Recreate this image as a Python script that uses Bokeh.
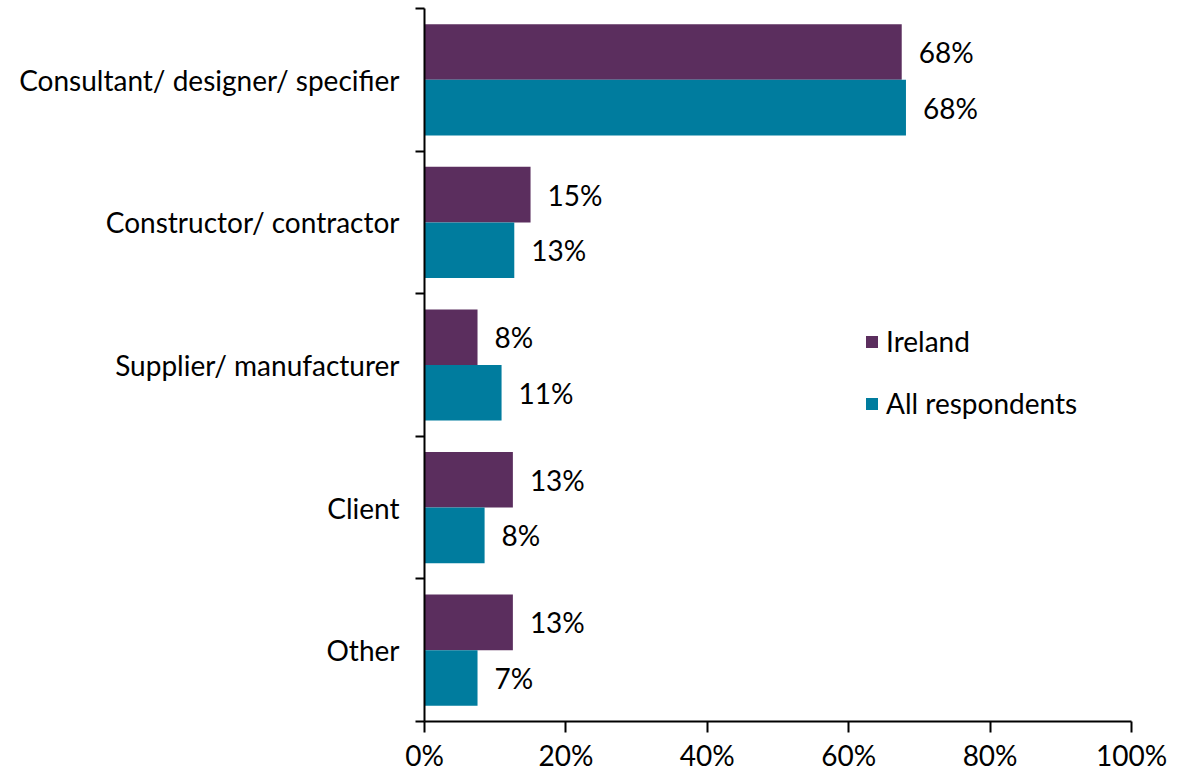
from bokeh.plotting import figure
from bokeh.models import ColumnDataSource, FixedTicker, Legend, LegendItem, Range1d
from bokeh.embed import file_html
from bokeh.resources import INLINE
from bokeh.core.properties import value

categories = ["Consultant/ designer/ specifier", "Constructor/ contractor",
              "Supplier/ manufacturer", "Client", "Other"]
ireland = [67.5, 15.0, 7.5, 12.5, 12.5]
all_resp = [68.1, 12.7, 10.9, 8.5, 7.5]
ireland_labels = ["68%", "15%", "8%", "13%", "13%"]
all_labels = ["68%", "13%", "11%", "8%", "7%"]
series_names = ["Ireland", "All respondents"]
x_ticks = [0, 20, 40, 60, 80, 100]
x_tick_labels = ["0%", "20%", "40%", "60%", "80%", "100%"]

PURPLE = "#5B2E5E"
TEAL = "#007C9E"
FONT = "Lato"
FS = "28px"

n = len(categories)
pos = [n - 1 - i for i in range(n)]
bar_h = 0.39

src_i = ColumnDataSource(dict(y=[p + bar_h / 2 for p in pos], x=ireland, lab=ireland_labels))
src_a = ColumnDataSource(dict(y=[p - bar_h / 2 for p in pos], x=all_resp, lab=all_labels))

p = figure(width=1185, height=774, output_backend="svg", toolbar_location=None,
           x_range=Range1d(0, 100), y_range=Range1d(-0.5, n - 0.5),
           min_border_left=424, min_border_right=54, min_border_top=8, min_border_bottom=50)
p.outline_line_color = None
p.xgrid.grid_line_color = None
p.ygrid.grid_line_color = None
p.background_fill_color = "white"
p.border_fill_color = "white"

r1 = p.hbar(y="y", right="x", left=0, height=bar_h, source=src_i,
            fill_color=PURPLE, line_color=None)
r2 = p.hbar(y="y", right="x", left=0, height=bar_h, source=src_a,
            fill_color=TEAL, line_color=None)

for src in (src_i, src_a):
    p.text(x="x", y="y", text="lab", source=src, x_offset=17,
           text_font=value(FONT), text_font_size=FS, text_font_style="normal",
           text_baseline="middle", text_align="left", text_color="#000000")

# y axis
yax = p.yaxis[0]
yax.ticker = FixedTicker(ticks=pos, minor_ticks=[i - 0.5 for i in range(n + 1)])
yax.major_label_overrides = {pp: c for pp, c in zip(pos, categories)}
yax.major_tick_out = 0
yax.major_tick_in = 0
yax.minor_tick_out = 9
yax.minor_tick_in = 0
yax.minor_tick_line_width = 2
yax.minor_tick_line_color = "black"
yax.axis_line_width = 2
yax.axis_line_color = "black"
yax.major_label_standoff = 16
yax.major_label_text_font = FONT
yax.major_label_text_font_size = FS
yax.major_label_text_color = "#000000"

# x axis
xax = p.xaxis[0]
xax.ticker = FixedTicker(ticks=x_ticks)
xax.major_label_overrides = {t: l for t, l in zip(x_ticks, x_tick_labels)}
xax.major_tick_out = 11
xax.major_tick_in = 0
xax.major_tick_line_width = 2
xax.major_tick_line_color = "black"
xax.minor_tick_line_color = None
xax.axis_line_width = 2
xax.axis_line_color = "black"
xax.major_label_standoff = 5
xax.major_label_text_font = FONT
xax.major_label_text_font_size = FS
xax.major_label_text_color = "#000000"

legend = Legend(items=[LegendItem(label=series_names[0], renderers=[r1]),
                       LegendItem(label=series_names[1], renderers=[r2])],
                location=(440, 301), orientation="vertical")
legend.glyph_width = 15
legend.glyph_height = 15
legend.label_height = 30
legend.spacing = 28
legend.padding = 0
legend.margin = 0
legend.label_standoff = 7
legend.border_line_color = None
legend.background_fill_alpha = 0
legend.label_text_font = FONT
legend.label_text_font_size = FS
legend.label_text_color = "#000000"
p.add_layout(legend, "center")

open("out.html", "w").write(file_html(p, INLINE))
